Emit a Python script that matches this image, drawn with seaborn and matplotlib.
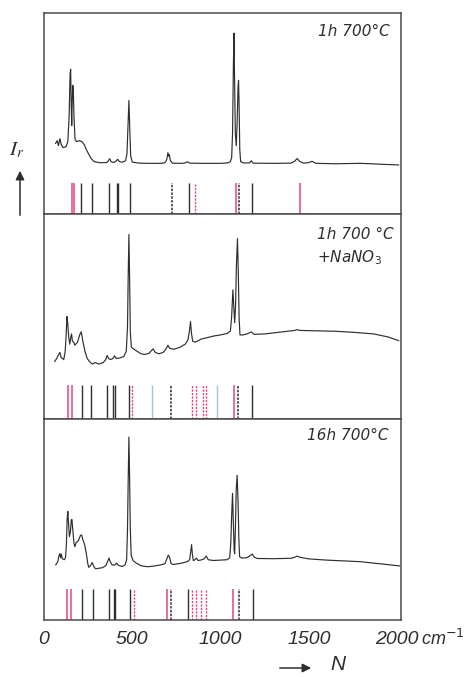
import matplotlib
matplotlib.use("Agg")
import matplotlib.pyplot as plt
import pandas as pd
import seaborn as sns

sns.set_style("white")
plt.rcParams["font.family"] = ["DejaVu Sans"]

# ---- Raman spectra: wavenumber (cm^-1) vs. relative intensity (0-100 per panel) ----
p1_x = [65, 75, 82, 90, 98, 108, 125, 135, 142, 148, 151, 154, 157, 160, 163, 166, 170, 176,
        185, 200, 215, 228, 240, 255, 268, 285, 320, 355, 365, 372, 380, 395, 410, 418, 428,
        445, 462, 470, 475, 481, 486, 491, 500, 540, 600, 660, 685, 695, 702, 706, 710, 716,
        728, 780, 800, 812, 825, 900, 1000, 1040, 1055, 1063, 1068, 1073, 1076, 1079, 1084,
        1089, 1094, 1099, 1102, 1105, 1109, 1114, 1130, 1165, 1174, 1185, 1300, 1400, 1420,
        1434, 1448, 1470, 1495, 1519, 1540, 1650, 1790, 1850, 1950, 2010]
p1_y = [35, 36.5, 34, 37.5, 34.5, 33, 33.5, 36, 48, 70, 72, 55, 44, 56, 64, 62, 48, 37,
        36, 36.5, 36, 34.5, 32, 29.5, 27.5, 26, 25.5, 25.6, 26.5, 27.5, 26, 25.6, 26.5, 27.2, 26,
        25.8, 26.5, 30, 42, 56.5, 42, 29, 25.8, 25.3, 25.2, 25.2, 25.5, 27, 30.5, 28.8, 29.5, 26.5,
        25.3, 25.2, 25.4, 26, 25.3, 25.2, 25.2, 25.4, 26, 28, 40, 75, 90, 70, 40,
        34, 45, 63, 66.5, 55, 32, 26, 25.4, 25.4, 26.5, 25.3, 25.2, 25.3, 26.3,
        27.6, 26.2, 25.3, 25.5, 26.2, 25.2, 25, 25.2, 25, 24.6, 24.4]

p2_x = [60, 72, 80, 90, 97, 105, 112, 120, 126, 130, 134, 140, 146, 152, 156, 161, 168, 175,
        190, 202, 211, 220, 232, 245, 258, 273, 290, 311, 335, 350, 358, 366, 377, 390, 400,
        410, 430, 452, 466, 473, 477, 481, 485, 489, 495, 510, 528, 550, 570, 595, 610, 618,
        630, 651, 675, 690, 702, 712, 736, 770, 800, 815, 824, 830, 835, 842, 855, 870, 890,
        906, 930, 962, 1000, 1040, 1056, 1063, 1070, 1075, 1080, 1085, 1090, 1096, 1101, 1105,
        1110, 1125, 1150, 1174, 1190, 1250, 1350, 1420, 1434, 1450, 1550, 1650, 1750, 1868,
        1950, 2010]
p2_y = [28, 29.5, 31, 32.5, 30, 29.5, 29, 33, 42, 50, 47, 40, 36.5, 40, 41.5, 38, 37.5, 36,
        37.5, 41, 42.5, 38, 33, 29.5, 28, 26.8, 27.5, 26.8, 27.5, 29, 31, 29.5, 29, 29.5, 30.8,
        29.5, 29.8, 30.5, 33, 45, 70, 90, 68, 42, 35, 34, 33, 31.8, 31.5, 32, 33.5, 34.2,
        32.5, 31.8, 32.5, 34, 36, 34.5, 34, 35, 36.5, 38.5, 43, 47.5, 42, 38, 37.5, 38, 39,
        39.3, 39.8, 40.5, 41, 41.8, 43, 50, 63, 55, 47, 55, 75, 88, 70, 50,
        41, 41, 41.5, 42.5, 41.3, 41.5, 42.5, 43.2, 43.6, 43.2, 43, 42.8, 42.3, 41.5,
        40, 38.2]

p3_x = [66, 78, 85, 90, 94, 98, 104, 115, 122, 127, 131, 135, 139, 144, 150, 154, 158, 163,
        170, 175, 182, 195, 206, 213, 220, 230, 240, 248, 254, 263, 273, 283, 292, 330, 350,
        362, 368, 375, 386, 400, 411, 420, 443, 460, 468, 473, 477, 481, 485, 489, 494, 505,
        519, 550, 585, 620, 660, 685, 696, 704, 712, 720, 735, 780, 811, 825, 831, 836, 840,
        846, 855, 864, 872, 887, 905, 919, 930, 960, 1000, 1038, 1052, 1058, 1063, 1068, 1072,
        1077, 1080, 1084, 1089, 1094, 1099, 1104, 1108, 1120, 1150, 1170, 1180, 1192, 1208,
        1300, 1400, 1420, 1434, 1450, 1500, 1600, 1700, 1793, 1900, 2015]
p3_y = [27.4, 29, 32, 33, 31, 32.8, 30.5, 30, 31, 38, 50, 54, 48, 41.5, 44, 49.5, 50, 45,
        38, 36.5, 38.5, 39.5, 42, 42.3, 40, 37.5, 33, 28, 26.2, 27, 28.6, 26.5, 25.5, 26, 27,
        29.5, 30.8, 29, 27.4, 27.3, 28.3, 27.3, 26.6, 27.5, 30, 45, 70, 91, 70, 45, 32, 29.5,
        28.5, 27, 26.5, 26.8, 27.4, 28, 30.5, 32.3, 31, 28, 27.6, 28.3, 29, 30, 34, 37.5, 33,
        29.5, 30, 30.8, 29.6, 29.8, 30.3, 31.8, 30, 29.6, 29.8, 30, 31, 38, 52, 63, 50,
        35, 33, 45, 65, 72, 60, 40, 31.5, 30.8, 31, 32.2, 32.8, 31.2, 30.6,
        30.5, 30.7, 31.2, 31.8, 31.2, 30.4, 29.8, 29.4, 29, 28, 26.9]

# ---- reference line positions (cm^-1) ----
p1_black = [211, 273, 368, 411, 418, 485, 821, 1180]
p1_pink = [160, 169, 1089, 1449]
p1_black_dash = [723, 1106]
p1_pink_dash = [853]
p1_blue = []

p2_black = [215, 267, 358, 393, 400, 481, 1180]
p2_pink = [134, 158, 1075]
p2_black_dash = [717, 1100]
p2_pink_dash = [500, 840, 859, 900, 919]
p2_blue = [613, 981]

p3_black = [217, 277, 368, 394, 402, 487, 815, 1185]
p3_pink = [128, 154, 698, 1070]
p3_black_dash = [717, 1104]
p3_pink_dash = [509, 840, 859, 887, 915]
p3_blue = []

panel_titles = [["1h 700°C"], ["1h 700 °C", "+NaNO$_3$"], ["16h 700°C"]]
tick_values = [0, 500, 1000, 1500, 2000]
tick_labels = ["0", "500", "1000", "1500", "2000"]

INK = "#2e2e2e"
PINK = "#e5477c"
BLUE = "#9fc4de"
LABEL_FONT = ["Liberation Sans", "DejaVu Sans"]

fig = plt.figure(figsize=(4.66, 6.77), dpi=100)
W, H = 466, 677
left, right = 44 / W, 400.6 / W
edges_px = [13, 214, 419, 620]

spectra = [(p1_x, p1_y), (p2_x, p2_y), (p3_x, p3_y)]
sticks = [
    (p1_black, p1_pink, p1_black_dash, p1_pink_dash, p1_blue, 15.3),
    (p2_black, p2_pink, p2_black_dash, p2_pink_dash, p2_blue, 16.6),
    (p3_black, p3_pink, p3_black_dash, p3_pink_dash, p3_blue, 15.3),
]

axes = []
for i in range(3):
    top_px, bot_px = edges_px[i], edges_px[i + 1]
    ax = fig.add_axes([left, 1 - bot_px / H, right - left, (bot_px - top_px) / H])
    axes.append(ax)
    sx, sy = spectra[i]
    df = pd.DataFrame({"N": sx, "I": sy})
    sns.lineplot(data=df, x="N", y="I", ax=ax, color=INK, lw=0.85,
                 estimator=None, sort=False, legend=False)
    blk, pnk, bdash, pdash, blu, h = sticks[i]
    ax.vlines(blk, 0, h, color=INK, lw=1.0)
    ax.vlines(pnk, 0, h, color=PINK, lw=1.1)
    ax.vlines(bdash, 0, h, color=INK, lw=1.1, linestyles=(0, (1.6, 0.9)))
    ax.vlines(pdash, 0, h, color=PINK, lw=1.0, linestyles=(0, (1.6, 0.9)))
    if blu:
        ax.vlines(blu, 0, h, color=BLUE, lw=1.0)
    ax.set_xlim(0, 2020)
    ax.set_ylim(0, 100)
    ax.set_yticks([])
    ax.set_xlabel("")
    ax.set_ylabel("")
    for sp in ax.spines.values():
        sp.set_color("#4a4a4a")
        sp.set_linewidth(1.1)
    if i < 2:
        ax.set_xticks([])

# panel annotations
axes[0].text(0.970, 0.945, panel_titles[0][0], transform=axes[0].transAxes,
             ha="right", va="top", fontsize=11, fontstyle="italic", color=INK)
axes[1].text(0.766, 0.937, panel_titles[1][0], transform=axes[1].transAxes,
             ha="left", va="top", fontsize=11, fontstyle="italic", color=INK)
axes[1].text(0.766, 0.834, panel_titles[1][1], transform=axes[1].transAxes,
             ha="left", va="top", fontsize=11, fontstyle="italic", color=INK)
axes[2].text(0.965, 0.955, panel_titles[2][0], transform=axes[2].transAxes,
             ha="right", va="top", fontsize=11, fontstyle="italic", color=INK)

# bottom axis
axb = axes[2]
axb.set_xticks(tick_values)
axb.set_xticklabels(tick_labels)
axb.tick_params(axis="x", direction="out", length=3, width=0.8, pad=5, colors=INK)
for lab in axb.get_xticklabels():
    lab.set_fontstyle("italic")
    lab.set_fontfamily(LABEL_FONT)
    lab.set_fontsize(14)
axb.text(1.058, -0.043, "cm$^{-1}$", transform=axb.transAxes, ha="left", va="top",
         fontsize=13, fontstyle="italic", family=LABEL_FONT, color=INK,
         math_fontfamily="dejavusans")

# axis symbols with arrows
fig.text(17 / W, 1 - 150 / H, "$I_r$", ha="center", va="center", fontsize=15,
         color=INK, math_fontfamily="stix")
fig.add_artist(matplotlib.patches.FancyArrowPatch(
    (20 / W, 1 - 218 / H), (20 / W, 1 - 168 / H), transform=fig.transFigure,
    arrowstyle="-|>", mutation_scale=13, lw=1.1, color=INK))
fig.add_artist(matplotlib.patches.FancyArrowPatch(
    (277 / W, 1 - 668 / H), (314 / W, 1 - 668 / H), transform=fig.transFigure,
    arrowstyle="-|>", mutation_scale=13, lw=1.1, color=INK))
fig.text(338 / W, 1 - 665 / H, "N", ha="center", va="center", fontsize=15,
         fontstyle="italic", family=LABEL_FONT, color=INK)

fig.savefig("out.png", dpi=100)
